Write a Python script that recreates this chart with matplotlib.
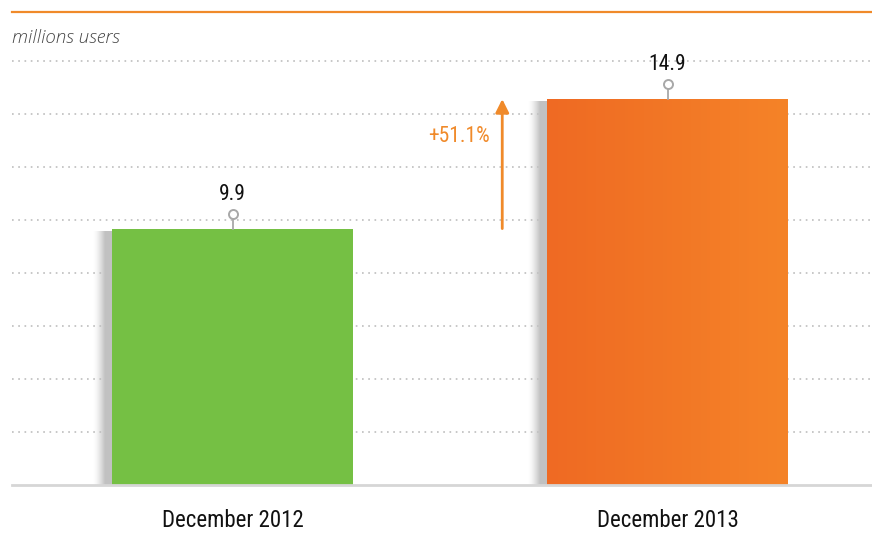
import numpy as np
import matplotlib
matplotlib.use("Agg")
import matplotlib.pyplot as plt
from matplotlib import font_manager

# chart data
categories = ["December 2012", "December 2013"]
users = [9.9, 14.9]
value_labels = ["9.9", "14.9"]
growth_label = "+51.1%"
unit_label = "millions users"

# pick a narrow font if one is installed
names = {f.name for f in font_manager.fontManager.ttflist}
def pick(cands):
    for c in cands:
        if c in names:
            return c
    return "DejaVu Sans"

cond_font = pick(["Roboto Condensed", "Liberation Sans Narrow", "Roboto", "DejaVu Sans"])
italic_font = pick(["Open Sans", "Noto Sans", "DejaVu Sans"])

ORANGE = "#F08A2A"
GREEN = "#75C044"
px_per_unit = 25.9        # vertical scale
grid_step = 53 / px_per_unit
bar_w = 0.554
xstep_px = 435.0

fig = plt.figure(figsize=(8.72, 5.43), dpi=100)
ax = fig.add_axes([12 / 872, 58 / 543, 860 / 872, 473 / 543])

# dotted grid
for g in grid_step * np.arange(1, 9):
    ax.axhline(g, color="#BDBDBD", lw=1.2, ls=(0, (1, 2.75)), zorder=0)

x = np.arange(len(categories))
shadow_w = 19 / xstep_px

for i, v in enumerate(users):
    x0 = x[i] - bar_w / 2
    x1 = x[i] + bar_w / 2
    # soft shadow on the left side
    n = 40
    sh = np.zeros((1, n, 4))
    sh[..., :3] = 0.76
    ramp = np.clip(np.linspace(0, 1, n) / 0.6, 0, 1)
    sh[0, :, 3] = ramp ** 1.5
    ax.imshow(sh, extent=[x0 - shadow_w, x0, 0, v - 0.1], aspect="auto",
              interpolation="bilinear", zorder=1)
    if i == 0:
        ax.bar(x[i], v, width=bar_w, color=GREEN, zorder=2)
    else:
        grad = np.zeros((1, 100, 3))
        left = np.array([239, 106, 35]) / 255
        right = np.array([245, 131, 40]) / 255
        t = np.linspace(0, 1, 100)[:, None]
        grad[0] = left * (1 - t) + right * t
        ax.imshow(grad, extent=[x0, x1, 0, v], aspect="auto",
                  interpolation="bilinear", zorder=2)

    # stem + circle marker + value label
    ax.plot([x[i], x[i]], [v, v + 0.45], color="#A8A8A8", lw=1.3, zorder=3)
    ax.plot(x[i], v + 0.58, marker="o", ms=6.5, mfc="white", mec="#A8A8A8",
            mew=1.4, zorder=4)
    ax.text(x[i], v + 1.12, value_labels[i], ha="center", va="baseline",
            fontsize=15.5, color="#111111", family=cond_font)

# growth arrow between the two bars
arrow_x = 0.62
ax.annotate("", xy=(arrow_x, users[1]), xytext=(arrow_x, users[0]),
            arrowprops=dict(arrowstyle="-|>", color=ORANGE, lw=2,
                            mutation_scale=20, shrinkA=0, shrinkB=0),
            zorder=3)
ax.text(0.52, users[1] - 1.45, growth_label, ha="center", va="center",
        fontsize=15.5, color=ORANGE, family=cond_font)

ax.set_xlim(-0.507, 1.470)
ax.set_ylim(0, 473 / px_per_unit)

for s in ["left", "right"]:
    ax.spines[s].set_visible(False)
ax.spines["bottom"].set_color("#D6D6D6")
ax.spines["bottom"].set_linewidth(2)
ax.spines["top"].set_color(ORANGE)
ax.spines["top"].set_linewidth(1.6)
ax.set_yticks([])
ax.set_xticks(x, categories)
ax.tick_params(axis="x", length=0, pad=17, labelsize=16.5, labelcolor="#111111")
for lbl in ax.get_xticklabels():
    lbl.set_family(cond_font)

fig.text(12 / 872, 1 - 38 / 543, unit_label, ha="left", va="center",
         fontsize=13.5, style="italic", weight="light", color="#444444",
         family=italic_font)

fig.savefig("out.png", dpi=100)
